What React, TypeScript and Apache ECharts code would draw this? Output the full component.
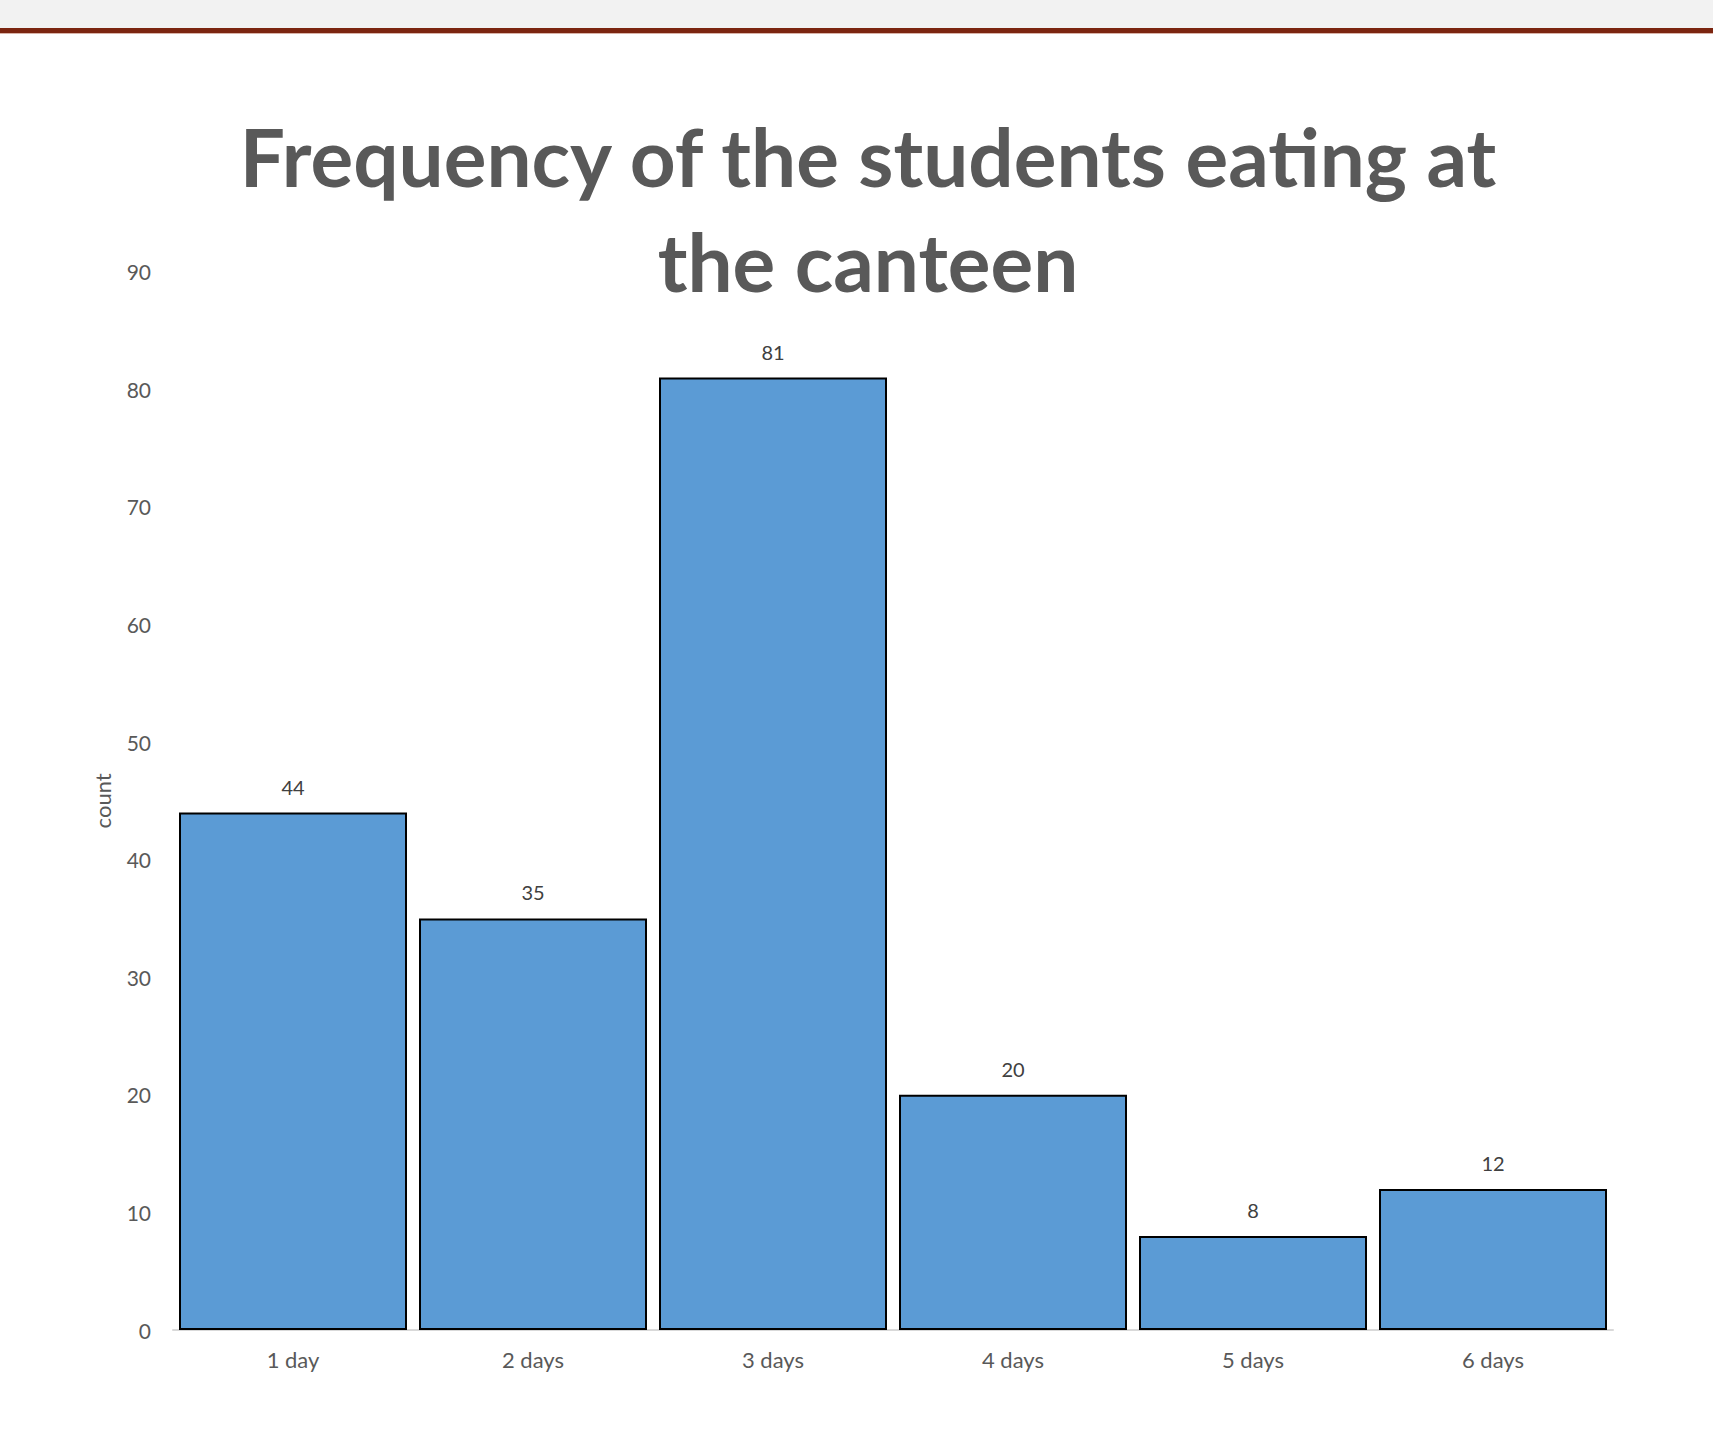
import React, { useEffect, useRef } from "react";
import * as echarts from "echarts";

const categories = ["1 day", "2 days", "3 days", "4 days", "5 days", "6 days"];
const counts = [44, 35, 81, 20, 8, 12];
const titleText = "Frequency of the students eating at\nthe canteen";
const yAxisName = "count";

export default function App() {
  const ref = useRef<HTMLDivElement>(null);
  useEffect(() => {
    if (!ref.current) return;
    const chart = echarts.init(ref.current, null, { renderer: "svg" });
    const font = "Lato, 'Open Sans', sans-serif";
    chart.setOption({
      animation: false,
      backgroundColor: "#ffffff",
      textStyle: { fontFamily: font },
      graphic: [
        { type: "rect", shape: { x: 0, y: 0, width: 1713, height: 28 }, style: { fill: "#f2f2f2" }, silent: true },
        { type: "rect", shape: { x: 0, y: 28, width: 1713, height: 5 }, style: { fill: "#7b2510" }, silent: true },
        { type: "rect", shape: { x: 0, y: 33, width: 1713, height: 1 }, style: { fill: "#d9b3a8" }, silent: true },
      ],
      title: {
        text: titleText,
        left: 863,
        top: 98,
        textAlign: "center",
        textStyle: {
          fontFamily: font,
          fontSize: 80,
          fontWeight: "bold",
          color: "#595959",
          lineHeight: 105,
        },
      },
      grid: { left: 173, right: 100, top: 271.7, bottom: 111, containLabel: false },
      xAxis: {
        type: "category",
        data: categories,
        axisLine: { show: true, lineStyle: { color: "#d9d9d9", width: 2 } },
        axisTick: { show: false },
        axisLabel: { color: "#595959", fontSize: 22, margin: 18, fontFamily: font },
      },
      yAxis: {
        type: "value",
        min: 0,
        max: 90,
        interval: 10,
        name: yAxisName,
        nameLocation: "middle",
        nameGap: 60,
        nameRotate: 90,
        nameTextStyle: { color: "#595959", fontSize: 22, fontFamily: font },
        axisLine: { show: false },
        axisTick: { show: false },
        splitLine: { show: false },
        axisLabel: { color: "#595959", fontSize: 21, margin: 22, fontFamily: font },
      },
      series: [
        {
          type: "bar",
          data: counts,
          barCategoryGap: "5%",
          itemStyle: { color: "#5b9bd5", borderColor: "#000000", borderWidth: 2 },
          label: {
            show: true,
            position: "top",
            distance: 16,
            color: "#404040",
            fontSize: 20,
            fontFamily: font,
          },
        },
      ],
    });
    return () => chart.dispose();
  }, []);
  return (
    <div
      ref={ref}
      style={{ position: "absolute", left: 0, top: 0, width: 1713, height: 1441 }}
    />
  );
}
